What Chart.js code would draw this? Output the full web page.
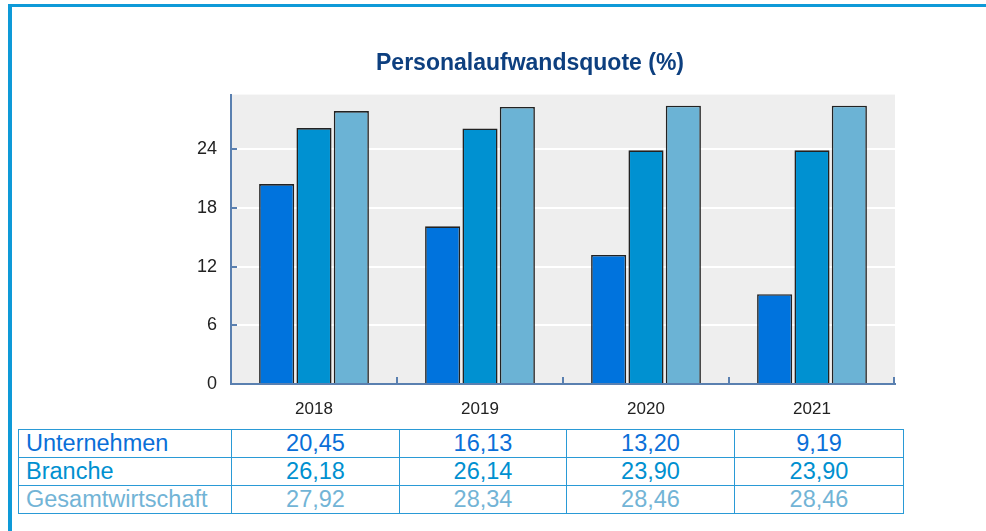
<!DOCTYPE html>
<html>
<head>
<meta charset="utf-8">
<script src="https://cdn.jsdelivr.net/npm/chart.js@4"></script>
<style>
    body { margin: 0; background: #fff; width: 986px; height: 531px; overflow: hidden; position: relative; }
    #frame { position: absolute; left: 8px; top: 4px; width: 978px; height: 527px;
             border-top: 3px solid #0e9ad8; border-left: 4px solid #0e9ad8; box-sizing: border-box; }
    #box { position: absolute; left: 0; top: 0; width: 986px; height: 425px; }
    #tbl { position: absolute; left: 18px; top: 429px; border-collapse: collapse; table-layout: fixed;
           width: 885px; font-family: "Liberation Sans", Arial, sans-serif; font-size: 23.5px; }
    #tbl td { border: 1px solid #2a9ad6; height: 27px; padding: 0; line-height: 27px; text-align: center; white-space: nowrap; }
    #tbl td.lbl { text-align: left; padding-left: 7px; }
</style>
</head>
<body>
<div id="frame"></div>
<div id="box"><canvas id="chart"></canvas></div>
<table id="tbl"></table>
<script>
var years = ["2018", "2019", "2020", "2021"];
var seriesNames = ["Unternehmen", "Branche", "Gesamtwirtschaft"];
var unternehmen = [20.45, 16.13, 13.20, 9.19];
var branche = [26.18, 26.14, 23.90, 23.90];
var gesamt = [27.92, 28.34, 28.46, 28.46];
var barColors = ["#0073dd", "#0091d1", "#6bb3d5"];
var textColors = ["#0a6fd8", "#0090d0", "#72b4d6"];

var yMax = 29.6;
var yStep = 6;

// hintergrund der plotfläche
var plotBg = {
    id: 'plotBg',
    beforeDraw: function(chart) {
        var a = chart.chartArea, ctx = chart.ctx;
        ctx.save();
        ctx.fillStyle = '#eeeeee';
        ctx.fillRect(a.left, a.top, a.right - a.left, a.bottom - a.top);
        ctx.restore();
    }
};

// kleine striche nach innen an den achsen
var innerTicks = {
    id: 'innerTicks',
    afterDraw: function(chart) {
        var ctx = chart.ctx, x = chart.scales.x, y = chart.scales.y, a = chart.chartArea;
        ctx.save();
        ctx.strokeStyle = '#5a80b0';
        ctx.lineWidth = 2;
        ctx.beginPath();
        y.ticks.forEach(function(t) {
            var py = Math.round(y.getPixelForValue(t.value));
            if (t.value === 0) return;
            ctx.moveTo(a.left, py);
            ctx.lineTo(a.left + 6, py);
        });
        for (var i = 0; i < years.length; i++) {
            var px;
            if (i < years.length - 1) {
                px = (x.getPixelForValue(i) + x.getPixelForValue(i + 1)) / 2;
            } else {
                px = a.right - 1;
            }
            ctx.moveTo(px, a.bottom);
            ctx.lineTo(px, a.bottom - 7);
        }
        ctx.stroke();
        ctx.restore();
    }
};

var ds = [unternehmen, branche, gesamt].map(function(vals, i) {
    return {
        label: seriesNames[i],
        data: vals,
        backgroundColor: barColors[i],
        borderColor: '#222222',
        borderWidth: 1.6,
        categoryPercentage: 0.675,
        barPercentage: 0.94
    };
});

var fam = "'Liberation Sans', Arial, sans-serif";

new Chart(document.getElementById('chart'), {
    type: 'bar',
    data: { labels: years, datasets: ds },
    options: {
        responsive: true,
        maintainAspectRatio: false,
        devicePixelRatio: 1,
        animation: false,
        layout: { padding: { left: 165, right: 91, top: 0, bottom: 0 } },
        plugins: {
            legend: { display: false },
            tooltip: { enabled: false },
            title: {
                display: true,
                text: 'Personalaufwandsquote (%)',
                color: '#0d3f7f',
                font: { family: fam, size: 23, weight: 'bold' },
                padding: { top: 50, bottom: 17 }
            }
        },
        scales: {
            x: {
                grid: { display: false },
                border: { color: '#5a80b0', width: 2 },
                ticks: { color: '#222', font: { family: fam, size: 17 }, padding: 7 },
                afterFit: function(s) { s.height = 41; }
            },
            y: {
                min: 0,
                max: yMax,
                ticks: { stepSize: yStep, includeBounds: false, color: '#222', font: { family: fam, size: 18 }, padding: 14 },
                grid: { color: '#ffffff', lineWidth: 2, drawTicks: false },
                border: { color: '#5a80b0', width: 2 },
                afterFit: function(s) { s.width = 66; }
            }
        }
    },
    plugins: [plotBg, innerTicks]
});

// wertetabelle unter dem diagramm
var tbl = document.getElementById('tbl');
var colW = [213, 168, 167, 168, 169];
var cg = document.createElement('colgroup');
colW.forEach(function(w) {
    var c = document.createElement('col');
    c.style.width = w + 'px';
    cg.appendChild(c);
});
tbl.appendChild(cg);
[unternehmen, branche, gesamt].forEach(function(vals, i) {
    var tr = document.createElement('tr');
    tr.style.color = textColors[i];
    var td = document.createElement('td');
    td.className = 'lbl';
    td.textContent = seriesNames[i];
    tr.appendChild(td);
    vals.forEach(function(v) {
        var c = document.createElement('td');
        c.textContent = v.toFixed(2).replace('.', ',');
        tr.appendChild(c);
    });
    tbl.appendChild(tr);
});
</script>
</body>
</html>
